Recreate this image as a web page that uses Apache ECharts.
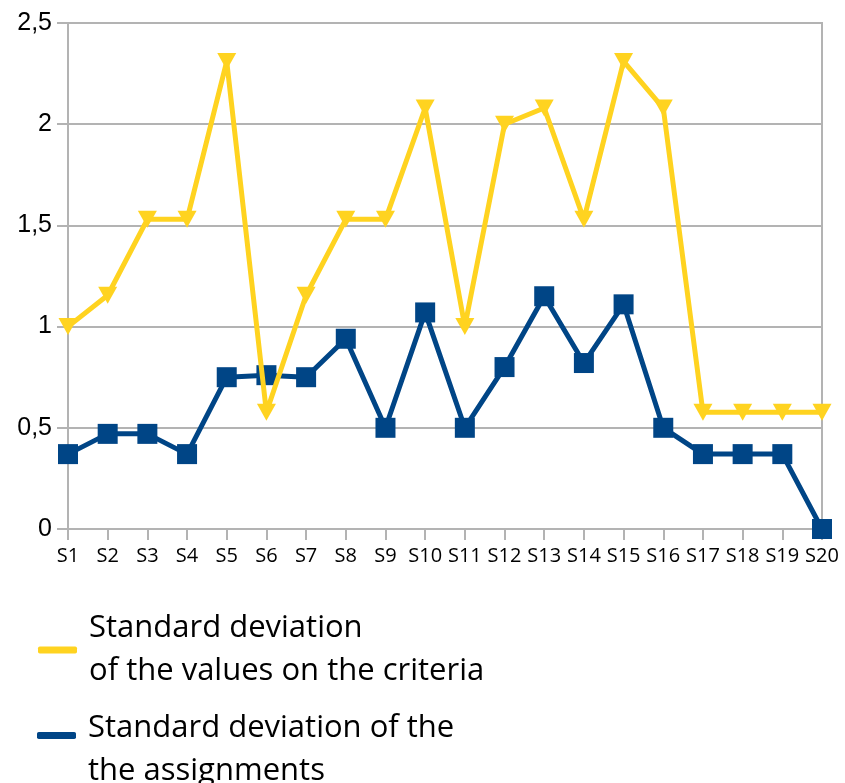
<!DOCTYPE html>
<html>
<head>
<meta charset="utf-8">
<script src="https://cdn.jsdelivr.net/npm/echarts@6/dist/echarts.min.js"></script>
<style>
  html, body { margin: 0; padding: 0; background: #fff; }
  #chart { width: 845px; height: 783px; }
</style>
</head>
<body>
<div id="chart"></div>
<script>
// Series S1..S20
const categories = ['S1','S2','S3','S4','S5','S6','S7','S8','S9','S10',
                    'S11','S12','S13','S14','S15','S16','S17','S18','S19','S20'];

// Standard deviation of the values on the criteria
const criteriaStd = [1.0, 1.155, 1.53, 1.53, 2.31, 0.577, 1.155, 1.53, 1.53, 2.08,
                     1.0, 2.0, 2.08, 1.53, 2.31, 2.08, 0.577, 0.577, 0.577, 0.577];

// Standard deviation of the assignments
const assignStd = [0.37, 0.47, 0.47, 0.37, 0.75, 0.76, 0.75, 0.94, 0.5, 1.07,
                   0.5, 0.8, 1.15, 0.82, 1.11, 0.5, 0.37, 0.37, 0.37, 0.0];

const yTicks = [0, 0.5, 1, 1.5, 2, 2.5];

const nameCriteria = 'Standard deviation\nof the values on the criteria';
const nameAssign = 'Standard deviation of the\nthe assignments';

const YELLOW = '#FFD320';
const BLUE = '#004586';
const GRID = '#b3b3b3';
const TEXT_FONT = '"Open Sans", Lato, sans-serif';

const legendText = {
  fontFamily: TEXT_FONT,
  fontSize: 31,
  color: '#000',
  lineHeight: 43,
  padding: [0, 0, 0, 7],
  rich: { gap: { lineHeight: 29, fontSize: 1 } }
};

const chart = echarts.init(document.getElementById('chart'), null, { renderer: 'canvas' });

chart.setOption({
  animation: false,
  backgroundColor: '#ffffff',
  grid: {
    left: 68, right: 23, top: 23, bottom: 254, containLabel: false,
    show: true, borderColor: GRID, borderWidth: 2, backgroundColor: 'transparent'
  },
  legend: [
    {
      orient: 'vertical',
      left: 38,
      top: 607,
      padding: 0,
      itemWidth: 39,
      itemHeight: 7,
      icon: 'roundRect',
      selectedMode: false,
      textStyle: legendText,
      data: [{ name: nameCriteria, itemStyle: { color: YELLOW } }]
    },
    {
      // icon sits beside the first line of this two-line entry
      orient: 'vertical',
      left: 37,
      top: 678,
      padding: 0,
      itemWidth: 39,
      itemHeight: 7,
      icon: 'roundRect',
      selectedMode: false,
      textStyle: legendText,
      formatter: name => '{gap| }\n' + name,
      data: [{ name: nameAssign, itemStyle: { color: BLUE } }]
    }
  ],
  xAxis: {
    type: 'category',
    data: categories,
    boundaryGap: false,
    axisLine: { show: true, lineStyle: { color: GRID, width: 2 } },
    axisTick: { show: true, alignWithLabel: true, length: 11, lineStyle: { color: GRID, width: 2 } },
    axisLabel: {
      interval: 0,
      margin: 17,
      fontFamily: TEXT_FONT,
      fontSize: 20,
      color: '#000'
    },
    splitLine: { show: false }
  },
  yAxis: {
    type: 'value',
    min: 0,
    max: 2.5,
    interval: 0.5,
    axisLine: { show: true, lineStyle: { color: GRID, width: 2 } },
    axisTick: { show: true, length: 11, lineStyle: { color: GRID, width: 2 } },
    axisLabel: {
      margin: 16,
      fontFamily: '"Liberation Sans", Arial, sans-serif',
      fontSize: 25,
      color: '#000',
      formatter: v => (yTicks.includes(v) ? String(v).replace('.', ',') : '')
    },
    splitLine: { show: true, lineStyle: { color: GRID, width: 2 } }
  },
  series: [
    {
      name: nameCriteria,
      type: 'line',
      data: criteriaStd,
      z: 4,
      color: YELLOW,
      lineStyle: { color: YELLOW, width: 5 },
      itemStyle: { color: YELLOW },
      symbol: 'triangle',
      symbolRotate: 180,
      symbolSize: [19, 17],
      showAllSymbol: true
    },
    {
      name: nameAssign,
      type: 'line',
      data: assignStd,
      z: 3,
      color: BLUE,
      lineStyle: { color: BLUE, width: 5 },
      itemStyle: { color: BLUE },
      symbol: 'rect',
      symbolSize: 20,
      showAllSymbol: true
    }
  ]
});
</script>
</body>
</html>
